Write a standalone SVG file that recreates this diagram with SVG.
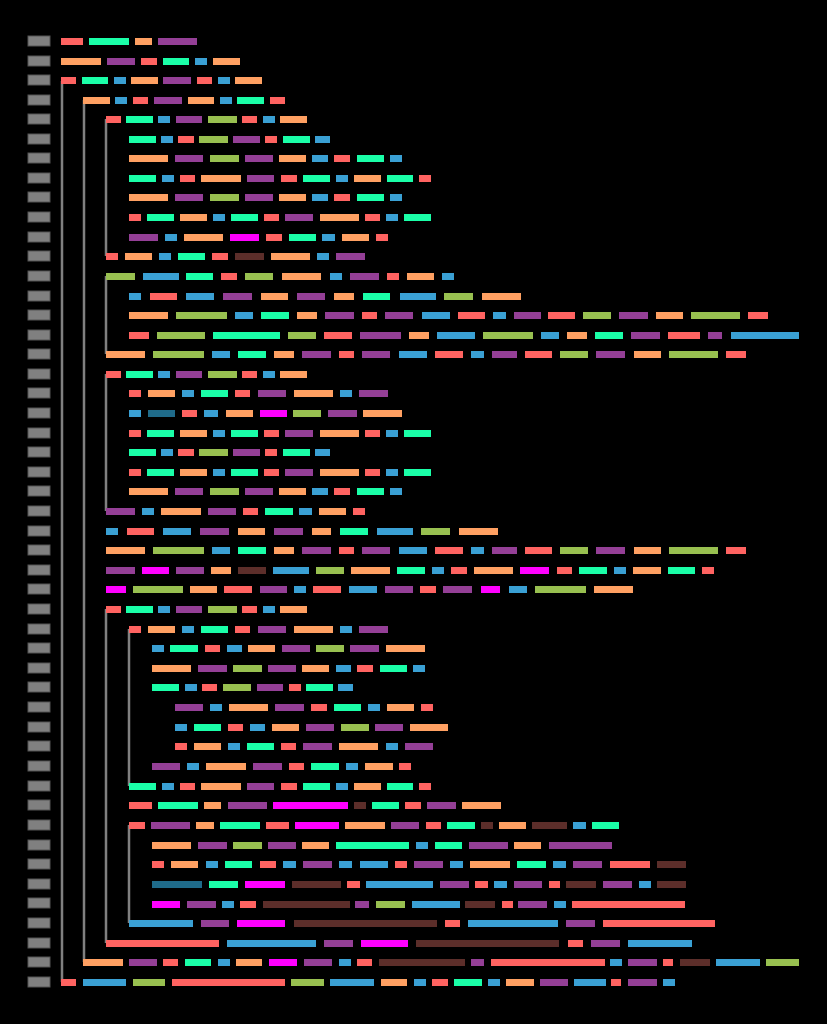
<svg xmlns="http://www.w3.org/2000/svg" width="827" height="1024" viewBox="0 0 827 1024">
<style>
rect{height:7px}
.n{fill:#808080;stroke:#555;stroke-width:1;height:10px}
.R{fill:#ff6361}.G{fill:#1affa8}.O{fill:#ffa062}.P{fill:#943f96}.B{fill:#3aa0d4}.L{fill:#98c050}.M{fill:#ff00ff}.D{fill:#5c2e2a}.T{fill:#1f6b8a}
.g{stroke:#808080;stroke-width:2.5;fill:none}
</style>
<rect width="827" height="1024" fill="#000" style="height:1024px"/>
<g id="guides" class="g">
<path d="M62 81V982M84 100V962M106 119V256M106 276V354M106 374V511M106 609V943M129 629V786M129 825V923"/>
</g>
<g id="linenums">
<rect class="n" x="28" y="36" width="22"/><rect class="n" x="28" y="56" width="22"/><rect class="n" x="28" y="75" width="22"/><rect class="n" x="28" y="95" width="22"/><rect class="n" x="28" y="114" width="22"/><rect class="n" x="28" y="134" width="22"/><rect class="n" x="28" y="153" width="22"/><rect class="n" x="28" y="173" width="22"/><rect class="n" x="28" y="192" width="22"/><rect class="n" x="28" y="212" width="22"/><rect class="n" x="28" y="232" width="22"/><rect class="n" x="28" y="251" width="22"/><rect class="n" x="28" y="271" width="22"/><rect class="n" x="28" y="291" width="22"/><rect class="n" x="28" y="310" width="22"/><rect class="n" x="28" y="330" width="22"/><rect class="n" x="28" y="349" width="22"/><rect class="n" x="28" y="369" width="22"/><rect class="n" x="28" y="388" width="22"/><rect class="n" x="28" y="408" width="22"/><rect class="n" x="28" y="428" width="22"/><rect class="n" x="28" y="447" width="22"/><rect class="n" x="28" y="467" width="22"/><rect class="n" x="28" y="486" width="22"/><rect class="n" x="28" y="506" width="22"/><rect class="n" x="28" y="526" width="22"/><rect class="n" x="28" y="545" width="22"/><rect class="n" x="28" y="565" width="22"/><rect class="n" x="28" y="584" width="22"/><rect class="n" x="28" y="604" width="22"/><rect class="n" x="28" y="624" width="22"/><rect class="n" x="28" y="643" width="22"/><rect class="n" x="28" y="663" width="22"/><rect class="n" x="28" y="682" width="22"/><rect class="n" x="28" y="702" width="22"/><rect class="n" x="28" y="722" width="22"/><rect class="n" x="28" y="741" width="22"/><rect class="n" x="28" y="761" width="22"/><rect class="n" x="28" y="781" width="22"/><rect class="n" x="28" y="800" width="22"/><rect class="n" x="28" y="820" width="22"/><rect class="n" x="28" y="840" width="22"/><rect class="n" x="28" y="859" width="22"/><rect class="n" x="28" y="879" width="22"/><rect class="n" x="28" y="898" width="22"/><rect class="n" x="28" y="918" width="22"/><rect class="n" x="28" y="938" width="22"/><rect class="n" x="28" y="957" width="22"/><rect class="n" x="28" y="977" width="22"/>
</g>
<g id="code">
<g id="r1" transform="translate(0,38)"><rect class="R" x="61" width="22"/><rect class="G" x="89" width="40"/><rect class="O" x="135" width="17"/><rect class="P" x="158" width="39"/></g>
<g id="r2" transform="translate(0,58)"><rect class="O" x="61" width="40"/><rect class="P" x="107" width="28"/><rect class="R" x="141" width="16"/><rect class="G" x="163" width="26"/><rect class="B" x="195" width="12"/><rect class="O" x="213" width="27"/></g>
<g id="r3" transform="translate(0,77)"><rect class="R" x="61" width="15"/><rect class="G" x="82" width="26"/><rect class="B" x="114" width="12"/><rect class="O" x="131" width="27"/><rect class="P" x="163" width="28"/><rect class="R" x="197" width="15"/><rect class="B" x="218" width="12"/><rect class="O" x="235" width="27"/></g>
<g id="r4" transform="translate(0,97)"><rect class="O" x="83" width="27"/><rect class="B" x="115" width="12"/><rect class="R" x="133" width="15"/><rect class="P" x="154" width="28"/><rect class="O" x="188" width="26"/><rect class="B" x="220" width="12"/><rect class="G" x="237" width="27"/><rect class="R" x="270" width="15"/></g>
<g id="r5" transform="translate(0,116)"><rect class="R" x="106" width="15"/><rect class="G" x="126" width="27"/><rect class="B" x="158" width="12"/><rect class="P" x="176" width="26"/><rect class="L" x="208" width="29"/><rect class="R" x="242" width="15"/><rect class="B" x="263" width="12"/><rect class="O" x="280" width="27"/></g>
<g id="r6" transform="translate(0,136)"><rect class="G" x="129" width="27"/><rect class="B" x="161" width="12"/><rect class="R" x="178" width="16"/><rect class="L" x="199" width="29"/><rect class="P" x="233" width="27"/><rect class="R" x="265" width="12"/><rect class="G" x="283" width="27"/><rect class="B" x="315" width="15"/></g>
<g id="r7" transform="translate(0,155)"><rect class="O" x="129" width="39"/><rect class="P" x="175" width="28"/><rect class="L" x="210" width="29"/><rect class="P" x="245" width="28"/><rect class="O" x="279" width="27"/><rect class="B" x="312" width="16"/><rect class="R" x="334" width="16"/><rect class="G" x="357" width="27"/><rect class="B" x="390" width="12"/></g>
<g id="r8" transform="translate(0,175)"><rect class="G" x="129" width="27"/><rect class="B" x="162" width="12"/><rect class="R" x="180" width="15"/><rect class="O" x="201" width="40"/><rect class="P" x="247" width="27"/><rect class="R" x="281" width="16"/><rect class="G" x="303" width="27"/><rect class="B" x="336" width="12"/><rect class="O" x="354" width="27"/><rect class="G" x="387" width="26"/><rect class="R" x="419" width="12"/></g>
<g id="r9" transform="translate(0,194)"><rect class="O" x="129" width="39"/><rect class="P" x="175" width="28"/><rect class="L" x="210" width="29"/><rect class="P" x="245" width="28"/><rect class="O" x="279" width="27"/><rect class="B" x="312" width="16"/><rect class="R" x="334" width="16"/><rect class="G" x="357" width="27"/><rect class="B" x="390" width="12"/></g>
<g id="r10" transform="translate(0,214)"><rect class="R" x="129" width="12"/><rect class="G" x="147" width="27"/><rect class="O" x="180" width="27"/><rect class="B" x="213" width="12"/><rect class="G" x="231" width="27"/><rect class="R" x="264" width="15"/><rect class="P" x="285" width="28"/><rect class="O" x="320" width="39"/><rect class="R" x="365" width="15"/><rect class="B" x="386" width="12"/><rect class="G" x="404" width="27"/></g>
<g id="r11" transform="translate(0,234)"><rect class="P" x="129" width="29"/><rect class="B" x="165" width="12"/><rect class="O" x="184" width="39"/><rect class="M" x="230" width="29"/><rect class="R" x="266" width="16"/><rect class="G" x="289" width="27"/><rect class="B" x="322" width="13"/><rect class="O" x="342" width="27"/><rect class="R" x="376" width="12"/></g>
<g id="r12" transform="translate(0,253)"><rect class="R" x="106" width="12"/><rect class="O" x="125" width="27"/><rect class="B" x="159" width="12"/><rect class="G" x="178" width="27"/><rect class="R" x="212" width="16"/><rect class="D" x="235" width="29"/><rect class="O" x="271" width="39"/><rect class="B" x="317" width="12"/><rect class="P" x="336" width="29"/></g>
<g id="r13" transform="translate(0,273)"><rect class="L" x="106" width="29"/><rect class="B" x="143" width="36"/><rect class="G" x="186" width="27"/><rect class="R" x="221" width="16"/><rect class="L" x="245" width="28"/><rect class="O" x="282" width="39"/><rect class="B" x="330" width="12"/><rect class="P" x="350" width="29"/><rect class="R" x="387" width="12"/><rect class="O" x="407" width="27"/><rect class="B" x="442" width="12"/></g>
<g id="r14" transform="translate(0,293)"><rect class="B" x="129" width="12"/><rect class="R" x="150" width="27"/><rect class="B" x="186" width="28"/><rect class="P" x="223" width="29"/><rect class="O" x="261" width="27"/><rect class="P" x="297" width="28"/><rect class="O" x="334" width="20"/><rect class="G" x="363" width="27"/><rect class="B" x="400" width="36"/><rect class="L" x="444" width="29"/><rect class="O" x="482" width="39"/></g>
<g id="r15" transform="translate(0,312)"><rect class="O" x="129" width="39"/><rect class="L" x="176" width="51"/><rect class="B" x="235" width="18"/><rect class="G" x="261" width="28"/><rect class="O" x="297" width="20"/><rect class="P" x="325" width="29"/><rect class="R" x="362" width="15"/><rect class="P" x="385" width="28"/><rect class="B" x="422" width="28"/><rect class="R" x="458" width="27"/><rect class="B" x="493" width="13"/><rect class="P" x="514" width="27"/><rect class="R" x="548" width="27"/><rect class="L" x="583" width="28"/><rect class="P" x="619" width="29"/><rect class="O" x="656" width="27"/><rect class="L" x="691" width="49"/><rect class="R" x="748" width="20"/></g>
<g id="r16" transform="translate(0,332)"><rect class="R" x="129" width="20"/><rect class="L" x="157" width="48"/><rect class="G" x="213" width="67"/><rect class="L" x="288" width="28"/><rect class="R" x="324" width="28"/><rect class="P" x="360" width="41"/><rect class="O" x="409" width="20"/><rect class="B" x="437" width="38"/><rect class="L" x="483" width="50"/><rect class="B" x="541" width="18"/><rect class="O" x="567" width="20"/><rect class="G" x="595" width="28"/><rect class="P" x="631" width="29"/><rect class="R" x="668" width="32"/><rect class="P" x="708" width="14"/><rect class="B" x="731" width="68"/></g>
<g id="r17" transform="translate(0,351)"><rect class="O" x="106" width="39"/><rect class="L" x="153" width="51"/><rect class="B" x="212" width="18"/><rect class="G" x="238" width="28"/><rect class="O" x="274" width="20"/><rect class="P" x="302" width="29"/><rect class="R" x="339" width="15"/><rect class="P" x="362" width="28"/><rect class="B" x="399" width="28"/><rect class="R" x="435" width="28"/><rect class="B" x="471" width="13"/><rect class="P" x="492" width="25"/><rect class="R" x="525" width="27"/><rect class="L" x="560" width="28"/><rect class="P" x="596" width="29"/><rect class="O" x="634" width="27"/><rect class="L" x="669" width="49"/><rect class="R" x="726" width="20"/></g>
<g id="r18" transform="translate(0,371)"><rect class="R" x="106" width="15"/><rect class="G" x="126" width="27"/><rect class="B" x="158" width="12"/><rect class="P" x="176" width="26"/><rect class="L" x="208" width="29"/><rect class="R" x="242" width="15"/><rect class="B" x="263" width="12"/><rect class="O" x="280" width="27"/></g>
<g id="r19" transform="translate(0,390)"><rect class="R" x="129" width="12"/><rect class="O" x="148" width="27"/><rect class="B" x="182" width="12"/><rect class="G" x="201" width="27"/><rect class="R" x="235" width="15"/><rect class="P" x="258" width="28"/><rect class="O" x="294" width="39"/><rect class="B" x="340" width="12"/><rect class="P" x="359" width="29"/></g>
<g id="r20" transform="translate(0,410)"><rect class="B" x="129" width="12"/><rect class="T" x="148" width="27"/><rect class="R" x="182" width="15"/><rect class="B" x="204" width="14"/><rect class="O" x="226" width="27"/><rect class="M" x="260" width="27"/><rect class="L" x="293" width="28"/><rect class="P" x="328" width="29"/><rect class="O" x="363" width="39"/></g>
<g id="r21" transform="translate(0,430)"><rect class="R" x="129" width="12"/><rect class="G" x="147" width="27"/><rect class="O" x="180" width="27"/><rect class="B" x="213" width="12"/><rect class="G" x="231" width="27"/><rect class="R" x="264" width="15"/><rect class="P" x="285" width="28"/><rect class="O" x="320" width="39"/><rect class="R" x="365" width="15"/><rect class="B" x="386" width="12"/><rect class="G" x="404" width="27"/></g>
<g id="r22" transform="translate(0,449)"><rect class="G" x="129" width="27"/><rect class="B" x="161" width="12"/><rect class="R" x="178" width="16"/><rect class="L" x="199" width="29"/><rect class="P" x="233" width="27"/><rect class="R" x="265" width="12"/><rect class="G" x="283" width="27"/><rect class="B" x="315" width="15"/></g>
<g id="r23" transform="translate(0,469)"><rect class="R" x="129" width="12"/><rect class="G" x="147" width="27"/><rect class="O" x="180" width="27"/><rect class="B" x="213" width="12"/><rect class="G" x="231" width="27"/><rect class="R" x="264" width="15"/><rect class="P" x="285" width="28"/><rect class="O" x="320" width="39"/><rect class="R" x="365" width="15"/><rect class="B" x="386" width="12"/><rect class="G" x="404" width="27"/></g>
<g id="r24" transform="translate(0,488)"><rect class="O" x="129" width="39"/><rect class="P" x="175" width="28"/><rect class="L" x="210" width="29"/><rect class="P" x="245" width="28"/><rect class="O" x="279" width="27"/><rect class="B" x="312" width="16"/><rect class="R" x="334" width="16"/><rect class="G" x="357" width="27"/><rect class="B" x="390" width="12"/></g>
<g id="r25" transform="translate(0,508)"><rect class="P" x="106" width="29"/><rect class="B" x="142" width="12"/><rect class="O" x="161" width="40"/><rect class="P" x="208" width="28"/><rect class="R" x="243" width="15"/><rect class="G" x="265" width="28"/><rect class="B" x="299" width="13"/><rect class="O" x="319" width="27"/><rect class="R" x="353" width="12"/></g>
<g id="r26" transform="translate(0,528)"><rect class="B" x="106" width="12"/><rect class="R" x="127" width="27"/><rect class="B" x="163" width="28"/><rect class="P" x="200" width="29"/><rect class="O" x="238" width="27"/><rect class="P" x="274" width="29"/><rect class="O" x="312" width="19"/><rect class="G" x="340" width="28"/><rect class="B" x="377" width="36"/><rect class="L" x="421" width="29"/><rect class="O" x="459" width="39"/></g>
<g id="r27" transform="translate(0,547)"><rect class="O" x="106" width="39"/><rect class="L" x="153" width="51"/><rect class="B" x="212" width="18"/><rect class="G" x="238" width="28"/><rect class="O" x="274" width="20"/><rect class="P" x="302" width="29"/><rect class="R" x="339" width="15"/><rect class="P" x="362" width="28"/><rect class="B" x="399" width="28"/><rect class="R" x="435" width="28"/><rect class="B" x="471" width="13"/><rect class="P" x="492" width="25"/><rect class="R" x="525" width="27"/><rect class="L" x="560" width="28"/><rect class="P" x="596" width="29"/><rect class="O" x="634" width="27"/><rect class="L" x="669" width="49"/><rect class="R" x="726" width="20"/></g>
<g id="r28" transform="translate(0,567)"><rect class="P" x="106" width="29"/><rect class="M" x="142" width="27"/><rect class="P" x="176" width="28"/><rect class="O" x="211" width="20"/><rect class="D" x="238" width="28"/><rect class="B" x="273" width="36"/><rect class="L" x="316" width="28"/><rect class="O" x="351" width="39"/><rect class="G" x="397" width="28"/><rect class="B" x="432" width="12"/><rect class="R" x="451" width="16"/><rect class="O" x="474" width="39"/><rect class="M" x="520" width="29"/><rect class="R" x="557" width="15"/><rect class="G" x="579" width="28"/><rect class="B" x="614" width="12"/><rect class="O" x="633" width="28"/><rect class="G" x="668" width="27"/><rect class="R" x="702" width="12"/></g>
<g id="r29" transform="translate(0,586)"><rect class="M" x="106" width="20"/><rect class="L" x="133" width="50"/><rect class="O" x="190" width="27"/><rect class="R" x="224" width="28"/><rect class="P" x="260" width="27"/><rect class="B" x="294" width="12"/><rect class="R" x="313" width="28"/><rect class="B" x="349" width="28"/><rect class="P" x="385" width="28"/><rect class="R" x="420" width="16"/><rect class="P" x="443" width="29"/><rect class="M" x="481" width="19"/><rect class="B" x="509" width="18"/><rect class="L" x="535" width="51"/><rect class="O" x="594" width="39"/></g>
<g id="r30" transform="translate(0,606)"><rect class="R" x="106" width="15"/><rect class="G" x="126" width="27"/><rect class="B" x="158" width="12"/><rect class="P" x="176" width="26"/><rect class="L" x="208" width="29"/><rect class="R" x="242" width="15"/><rect class="B" x="263" width="12"/><rect class="O" x="280" width="27"/></g>
<g id="r31" transform="translate(0,626)"><rect class="R" x="129" width="12"/><rect class="O" x="148" width="27"/><rect class="B" x="182" width="12"/><rect class="G" x="201" width="27"/><rect class="R" x="235" width="15"/><rect class="P" x="258" width="28"/><rect class="O" x="294" width="39"/><rect class="B" x="340" width="12"/><rect class="P" x="359" width="29"/></g>
<g id="r32" transform="translate(0,645)"><rect class="B" x="152" width="12"/><rect class="G" x="170" width="28"/><rect class="R" x="205" width="15"/><rect class="B" x="227" width="15"/><rect class="O" x="248" width="27"/><rect class="P" x="282" width="28"/><rect class="L" x="316" width="28"/><rect class="P" x="350" width="29"/><rect class="O" x="386" width="39"/></g>
<g id="r33" transform="translate(0,665)"><rect class="O" x="152" width="39"/><rect class="P" x="198" width="29"/><rect class="L" x="233" width="29"/><rect class="P" x="268" width="28"/><rect class="O" x="302" width="27"/><rect class="B" x="336" width="15"/><rect class="R" x="357" width="16"/><rect class="G" x="380" width="27"/><rect class="B" x="413" width="12"/></g>
<g id="r34" transform="translate(0,684)"><rect class="G" x="152" width="27"/><rect class="B" x="185" width="12"/><rect class="R" x="202" width="15"/><rect class="L" x="223" width="28"/><rect class="P" x="257" width="26"/><rect class="R" x="289" width="12"/><rect class="G" x="306" width="27"/><rect class="B" x="338" width="15"/></g>
<g id="r35" transform="translate(0,704)"><rect class="P" x="175" width="28"/><rect class="B" x="210" width="12"/><rect class="O" x="229" width="39"/><rect class="P" x="275" width="29"/><rect class="R" x="311" width="16"/><rect class="G" x="334" width="27"/><rect class="B" x="368" width="12"/><rect class="O" x="387" width="27"/><rect class="R" x="421" width="12"/></g>
<g id="r36" transform="translate(0,724)"><rect class="B" x="175" width="12"/><rect class="G" x="194" width="27"/><rect class="R" x="228" width="15"/><rect class="B" x="250" width="15"/><rect class="O" x="272" width="27"/><rect class="P" x="306" width="28"/><rect class="L" x="341" width="28"/><rect class="P" x="375" width="28"/><rect class="O" x="410" width="38"/></g>
<g id="r37" transform="translate(0,743)"><rect class="R" x="175" width="12"/><rect class="O" x="194" width="27"/><rect class="B" x="228" width="12"/><rect class="G" x="247" width="27"/><rect class="R" x="281" width="15"/><rect class="P" x="303" width="29"/><rect class="O" x="339" width="39"/><rect class="B" x="386" width="12"/><rect class="P" x="405" width="28"/></g>
<g id="r38" transform="translate(0,763)"><rect class="P" x="152" width="28"/><rect class="B" x="187" width="12"/><rect class="O" x="206" width="40"/><rect class="P" x="253" width="29"/><rect class="R" x="289" width="15"/><rect class="G" x="311" width="28"/><rect class="B" x="346" width="12"/><rect class="O" x="365" width="28"/><rect class="R" x="399" width="12"/></g>
<g id="r39" transform="translate(0,783)"><rect class="G" x="129" width="27"/><rect class="B" x="162" width="12"/><rect class="R" x="180" width="15"/><rect class="O" x="201" width="40"/><rect class="P" x="247" width="27"/><rect class="R" x="281" width="16"/><rect class="G" x="303" width="27"/><rect class="B" x="336" width="12"/><rect class="O" x="354" width="27"/><rect class="G" x="387" width="26"/><rect class="R" x="419" width="12"/></g>
<g id="r40" transform="translate(0,802)"><rect class="R" x="129" width="23"/><rect class="G" x="158" width="40"/><rect class="O" x="204" width="17"/><rect class="P" x="228" width="39"/><rect class="M" x="273" width="75"/><rect class="D" x="354" width="12"/><rect class="G" x="372" width="27"/><rect class="R" x="405" width="16"/><rect class="P" x="427" width="29"/><rect class="O" x="462" width="39"/></g>
<g id="r41" transform="translate(0,822)"><rect class="R" x="129" width="16"/><rect class="P" x="151" width="39"/><rect class="O" x="196" width="18"/><rect class="G" x="220" width="40"/><rect class="R" x="266" width="23"/><rect class="M" x="295" width="44"/><rect class="O" x="345" width="40"/><rect class="P" x="391" width="28"/><rect class="R" x="426" width="15"/><rect class="G" x="447" width="28"/><rect class="D" x="481" width="12"/><rect class="O" x="499" width="27"/><rect class="D" x="532" width="35"/><rect class="B" x="573" width="13"/><rect class="G" x="592" width="27"/></g>
<g id="r42" transform="translate(0,842)"><rect class="O" x="152" width="39"/><rect class="P" x="198" width="29"/><rect class="L" x="233" width="29"/><rect class="P" x="268" width="28"/><rect class="O" x="302" width="27"/><rect class="G" x="336" width="73"/><rect class="B" x="416" width="12"/><rect class="G" x="435" width="27"/><rect class="P" x="469" width="39"/><rect class="O" x="514" width="27"/><rect class="P" x="549" width="63"/></g>
<g id="r43" transform="translate(0,861)"><rect class="R" x="152" width="12"/><rect class="O" x="171" width="27"/><rect class="B" x="206" width="12"/><rect class="G" x="225" width="27"/><rect class="R" x="260" width="16"/><rect class="B" x="283" width="13"/><rect class="P" x="303" width="29"/><rect class="B" x="339" width="13"/><rect class="B" x="360" width="28"/><rect class="R" x="395" width="12"/><rect class="P" x="414" width="29"/><rect class="B" x="450" width="13"/><rect class="O" x="470" width="40"/><rect class="G" x="517" width="29"/><rect class="B" x="553" width="13"/><rect class="P" x="573" width="29"/><rect class="R" x="610" width="40"/><rect class="D" x="657" width="29"/></g>
<g id="r44" transform="translate(0,881)"><rect class="T" x="152" width="50"/><rect class="G" x="209" width="29"/><rect class="M" x="245" width="40"/><rect class="D" x="292" width="49"/><rect class="R" x="347" width="13"/><rect class="B" x="366" width="67"/><rect class="P" x="440" width="29"/><rect class="R" x="475" width="13"/><rect class="B" x="494" width="13"/><rect class="P" x="514" width="28"/><rect class="R" x="549" width="11"/><rect class="D" x="566" width="30"/><rect class="P" x="603" width="29"/><rect class="B" x="639" width="12"/><rect class="D" x="657" width="29"/></g>
<g id="r45" transform="translate(0,901)"><rect class="M" x="152" width="28"/><rect class="P" x="187" width="29"/><rect class="B" x="222" width="12"/><rect class="R" x="240" width="16"/><rect class="D" x="263" width="87"/><rect class="P" x="355" width="14"/><rect class="L" x="376" width="29"/><rect class="B" x="412" width="48"/><rect class="D" x="465" width="30"/><rect class="R" x="502" width="11"/><rect class="P" x="518" width="29"/><rect class="B" x="554" width="12"/><rect class="R" x="572" width="113"/></g>
<g id="r46" transform="translate(0,920)"><rect class="B" x="129" width="64"/><rect class="P" x="201" width="28"/><rect class="M" x="237" width="48"/><rect class="D" x="294" width="143"/><rect class="R" x="445" width="15"/><rect class="B" x="468" width="90"/><rect class="P" x="566" width="29"/><rect class="R" x="603" width="112"/></g>
<g id="r47" transform="translate(0,940)"><rect class="R" x="106" width="113"/><rect class="B" x="227" width="89"/><rect class="P" x="324" width="29"/><rect class="M" x="361" width="47"/><rect class="D" x="416" width="143"/><rect class="R" x="568" width="15"/><rect class="P" x="591" width="29"/><rect class="B" x="628" width="64"/></g>
<g id="r48" transform="translate(0,959)"><rect class="O" x="83" width="40"/><rect class="P" x="129" width="28"/><rect class="R" x="163" width="15"/><rect class="G" x="185" width="26"/><rect class="B" x="218" width="12"/><rect class="O" x="236" width="26"/><rect class="M" x="269" width="28"/><rect class="P" x="304" width="28"/><rect class="B" x="339" width="12"/><rect class="R" x="357" width="15"/><rect class="D" x="379" width="86"/><rect class="P" x="471" width="13"/><rect class="R" x="491" width="114"/><rect class="B" x="610" width="12"/><rect class="P" x="628" width="29"/><rect class="R" x="663" width="10"/><rect class="D" x="680" width="30"/><rect class="B" x="716" width="44"/><rect class="L" x="766" width="33"/></g>
<g id="r49" transform="translate(0,979)"><rect class="R" x="61" width="15"/><rect class="B" x="83" width="43"/><rect class="L" x="133" width="32"/><rect class="R" x="172" width="113"/><rect class="L" x="291" width="33"/><rect class="B" x="330" width="44"/><rect class="O" x="381" width="26"/><rect class="B" x="414" width="12"/><rect class="R" x="432" width="16"/><rect class="G" x="454" width="28"/><rect class="B" x="488" width="12"/><rect class="O" x="506" width="28"/><rect class="P" x="540" width="28"/><rect class="B" x="574" width="32"/><rect class="R" x="611" width="10"/><rect class="P" x="628" width="29"/><rect class="B" x="663" width="12"/></g>
</g>
</svg>
